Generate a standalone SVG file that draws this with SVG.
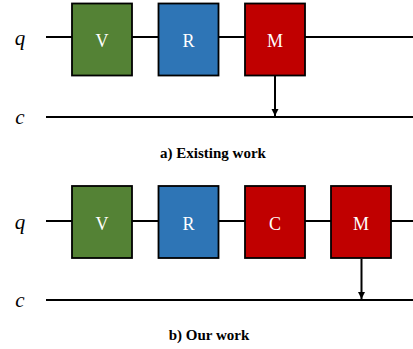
<svg xmlns="http://www.w3.org/2000/svg" width="413" height="349" viewBox="0 0 413 349">
<style>
.wire{stroke:#000;stroke-width:2;fill:none}
.box{stroke:#000;stroke-width:1.8}
.g{fill:#548235}.b{fill:#2E75B6}.r{fill:#C00000}
.gl{font-family:"Liberation Serif",serif;font-size:18px;fill:#fff;text-anchor:middle}
.lab{font-family:"Liberation Serif",serif;font-style:italic;font-size:21px;fill:#000;text-anchor:middle}
.cap{font-family:"Liberation Serif",serif;font-weight:bold;font-size:15px;fill:#000;text-anchor:middle}
</style>
<defs>
<marker id="ah" markerWidth="8" markerHeight="8" refX="7" refY="4" orient="auto" markerUnits="userSpaceOnUse">
<path d="M0,0.5 L7,4 L0,7.5 Z" fill="#000"/>
</marker>
</defs>
<g id="wires">
<line class="wire" x1="46" y1="37" x2="413" y2="37"/>
<line class="wire" x1="46" y1="117" x2="413" y2="117"/>
<line class="wire" x1="46" y1="221" x2="413" y2="221"/>
<line class="wire" x1="46" y1="300" x2="413" y2="300"/>
</g>
<text class="lab" x="20" y="45">q</text>
<text class="lab" x="20" y="124">c</text>
<text class="lab" x="20" y="229">q</text>
<text class="lab" x="20" y="307">c</text>
<g id="a-V"><rect class="box g" x="72" y="3.5" width="60" height="72"/><text class="gl" x="102" y="46.5">V</text></g>
<g id="a-R"><rect class="box b" x="158.5" y="3.5" width="60" height="72"/><text class="gl" x="188.5" y="46.5">R</text></g>
<g id="a-M"><rect class="box r" x="245" y="3.5" width="60" height="72"/><text class="gl" x="275" y="46.5">M</text></g>
<g id="b-V"><rect class="box g" x="72" y="186" width="60" height="72"/><text class="gl" x="102" y="229.5">V</text></g>
<g id="b-R"><rect class="box b" x="158.5" y="186" width="60" height="72"/><text class="gl" x="188.5" y="229.5">R</text></g>
<g id="b-C"><rect class="box r" x="245" y="186" width="60" height="72"/><text class="gl" x="275" y="229.5">C</text></g>
<g id="b-M"><rect class="box r" x="331" y="186" width="60" height="72"/><text class="gl" x="361" y="229.5">M</text></g>
<g id="connectors">
<line class="wire" x1="275" y1="76" x2="275" y2="116" marker-end="url(#ah)"/>
<line class="wire" x1="361.5" y1="259" x2="361.5" y2="299" marker-end="url(#ah)"/>
</g>
<text class="cap" x="213" y="158">a) Existing work</text>
<text class="cap" x="209" y="340">b) Our work</text>
</svg>
